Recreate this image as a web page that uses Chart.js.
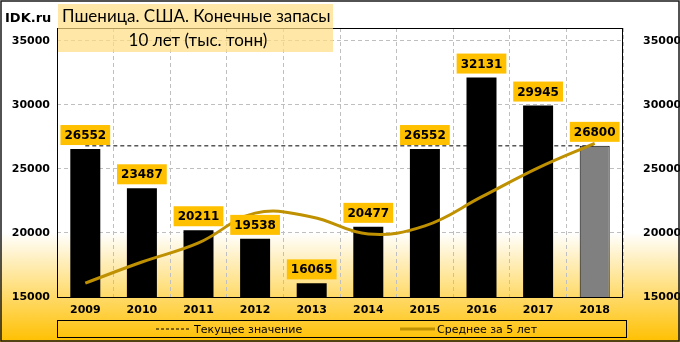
<!DOCTYPE html>
<html>
<head>
<meta charset="utf-8">
<script src="https://cdn.jsdelivr.net/npm/chart.js@4/dist/chart.umd.min.js"></script>
<style>
  html, body { margin: 0; padding: 0; background: #fff; }
  #wrap { width: 680px; height: 342px; }
</style>
</head>
<body>
<div id="wrap"><canvas id="chart" width="680" height="342"></canvas></div>
<script>
// Wheat, USA, ending stocks (thousand tonnes)
const years = ['2009', '2010', '2011', '2012', '2013', '2014', '2015', '2016', '2017', '2018'];
const stocks = [26552, 23487, 20211, 19538, 16065, 20477, 26552, 32131, 29945, 26800];
const avg5 = [16090, 17730, 19220, 21550, 21250, 19920, 20550, 22810, 25080, 27000];
const currentValue = 26800;
const yTicks = [15000, 20000, 25000, 30000, 35000];
const currentLine = years.map(() => currentValue);

const titleLine1 = 'Пшеница. США. Конечные запасы';
const titleLine2 = '10 лет (тыс. тонн)';
const legendCurrent = 'Текущее значение';
const legendAvg = 'Среднее за 5 лет';

const GOLD = '#FFC000';
const AVG_COLOR = '#BF9000';
const FONT = "'DejaVu Sans', sans-serif";

// background gradient + outer frame
const backgroundPlugin = {
    id: 'bg',
    beforeDraw(chart) {
        const ctx = chart.ctx;
        const h = chart.height;
        const g = ctx.createLinearGradient(0, 0, 0, h);
        g.addColorStop(0, '#ffffff');
        g.addColorStop(0.68, '#ffffff');
        g.addColorStop(1, '#FFC000');
        ctx.save();
        ctx.fillStyle = g;
        ctx.fillRect(0, 0, chart.width, h);
        ctx.restore();
    },
    afterDraw(chart) {
        const ctx = chart.ctx;
        ctx.save();
        ctx.strokeStyle = '#1a1a1a';
        ctx.lineWidth = 1.5;
        ctx.strokeRect(1, 1, chart.width - 2, chart.height - 2);
        ctx.restore();
    }
};

// plot frame, value labels, titles, legend
const decorPlugin = {
    id: 'decor',
    afterDatasetsDraw(chart) {
        const ctx = chart.ctx;
        const a = chart.chartArea;
        ctx.save();
        ctx.strokeStyle = '#000';
        ctx.lineWidth = 1;
        ctx.strokeRect(Math.round(a.left) + 0.5, Math.round(a.top) + 0.5,
            Math.round(a.right - a.left) - 1, Math.round(a.bottom - a.top));

        // value labels above bars
        const meta = chart.getDatasetMeta(1);
        ctx.font = 'bold 12px ' + FONT;
        ctx.textAlign = 'center';
        ctx.textBaseline = 'middle';
        meta.data.forEach((bar, i) => {
            const txt = String(stocks[i]);
            const w = ctx.measureText(txt).width + 8;
            const h = 20;
            const bottom = bar.y - 4;
            ctx.fillStyle = GOLD;
            ctx.fillRect(bar.x - w / 2, bottom - h, w, h);
            ctx.fillStyle = '#000';
            ctx.fillText(txt, bar.x, bottom - h / 2 + 1);
        });
        ctx.restore();
    },
    afterDraw(chart) {
        const ctx = chart.ctx;
        const a = chart.chartArea;
        ctx.save();

        // site mark
        ctx.fillStyle = '#000';
        ctx.font = 'bold 13px ' + FONT;
        ctx.textAlign = 'left';
        ctx.textBaseline = 'middle';
        ctx.fillText('IDK.ru', 5, 19);

        // title boxes
        ctx.fillStyle = 'rgba(255, 222, 130, 0.7)';
        ctx.fillRect(58, 4, 275, 48);
        ctx.fillStyle = '#000';
        ctx.font = '17px Lato, sans-serif';
        ctx.textAlign = 'left';
        ctx.fillText(titleLine1, 62, 17);
        ctx.textAlign = 'center';
        ctx.fillText(titleLine2, 198, 41);

        // legend
        const lx = Math.round(a.left) + 0.5, ly = 320.5, lw = Math.round(a.right - a.left) + 3, lh = 17;
        ctx.strokeStyle = '#000';
        ctx.lineWidth = 1;
        ctx.strokeRect(lx, ly, lw, lh);
        const cy = ly + lh / 2;
        ctx.setLineDash([3, 2]);
        ctx.beginPath();
        ctx.moveTo(156, cy);
        ctx.lineTo(190, cy);
        ctx.stroke();
        ctx.setLineDash([]);
        ctx.strokeStyle = AVG_COLOR;
        ctx.lineWidth = 3;
        ctx.beginPath();
        ctx.moveTo(400, cy);
        ctx.lineTo(435, cy);
        ctx.stroke();
        ctx.fillStyle = '#000';
        ctx.font = '11px ' + FONT;
        ctx.textAlign = 'left';
        ctx.textBaseline = 'middle';
        ctx.fillText(legendCurrent, 194, cy + 1);
        ctx.fillText(legendAvg, 437, cy + 1);
        ctx.restore();
    }
};

const tickFont = { family: FONT, size: 11, weight: 'bold' };
const plainTick = v => String(v);

new Chart(document.getElementById('chart').getContext('2d'), {
    data: {
        labels: years,
        datasets: [
            {
                type: 'line',
                label: legendAvg,
                data: avg5,
                borderColor: AVG_COLOR,
                borderWidth: 3,
                tension: 0.4,
                pointRadius: 0,
                order: 0
            },
            {
                type: 'bar',
                label: 'Запасы',
                data: stocks,
                backgroundColor: stocks.map((v, i) => i === stocks.length - 1 ? '#808080' : '#000000'),
                borderColor: '#000000',
                borderWidth: stocks.map((v, i) => i === stocks.length - 1 ? 1 : 0),
                barPercentage: 0.53,
                categoryPercentage: 1,
                order: 1
            },
            {
                type: 'line',
                label: legendCurrent,
                data: currentLine,
                borderColor: '#000000',
                borderWidth: 1,
                borderDash: [4, 3],
                pointRadius: 0,
                order: 2
            }
        ]
    },
    options: {
        responsive: false,
        animation: false,
        layout: { padding: { top: 28, bottom: 20, left: 0, right: 0 } },
        plugins: {
            legend: { display: false },
            tooltip: { enabled: false }
        },
        scales: {
            x: {
                grid: { offset: true, color: '#BFBFBF', drawTicks: false, borderDash: [4, 3] },
                border: { display: false, dash: [4, 3] },
                ticks: { font: tickFont, color: '#000', padding: 7, maxRotation: 0 },
                afterFit: function(scale) { scale.height = 25; }
            },
            y: {
                position: 'left',
                min: 15000,
                max: 36000,
                grid: { color: '#BFBFBF', drawTicks: false, borderDash: [4, 3] },
                border: { display: false, dash: [4, 3] },
                ticks: { font: tickFont, color: '#000', padding: 7, callback: plainTick },
                afterBuildTicks: function(scale) { scale.ticks = yTicks.map(v => ({ value: v })); },
                afterFit: function(scale) { scale.width = 57; }
            },
            y2: {
                position: 'right',
                min: 15000,
                max: 36000,
                grid: { display: false },
                border: { display: false },
                ticks: { font: tickFont, color: '#000', padding: 12, callback: plainTick },
                afterBuildTicks: function(scale) { scale.ticks = yTicks.map(v => ({ value: v })); },
                afterFit: function(scale) { scale.width = 57; }
            }
        }
    },
    plugins: [backgroundPlugin, decorPlugin]
});
</script>
</body>
</html>
